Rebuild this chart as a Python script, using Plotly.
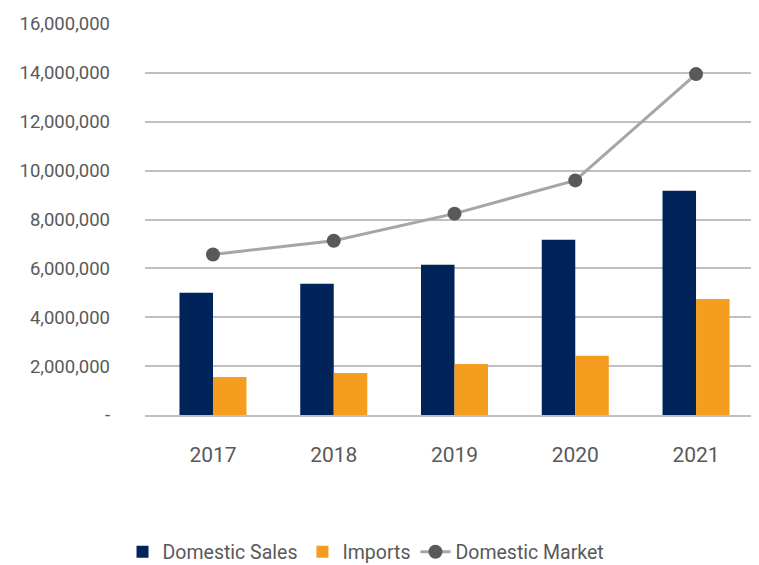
import plotly.graph_objects as go

years = ["2017", "2018", "2019", "2020", "2021"]
domestic_sales = [5000000, 5370000, 6150000, 7170000, 9180000]
imports = [1560000, 1720000, 2090000, 2420000, 4750000]
domestic_market = [6570000, 7130000, 8240000, 9600000, 13950000]

y_ticks = [0, 2000000, 4000000, 6000000, 8000000, 10000000, 12000000, 14000000, 16000000]
y_ticktext = ["-"] + [f"{v:,}" for v in y_ticks[1:]]

font = "Roboto"
grey_text = "#595959"

fig = go.Figure()
fig.add_trace(go.Bar(x=years, y=domestic_sales, name="Domestic Sales",
                     marker=dict(color="#002359", line_width=0)))
fig.add_trace(go.Bar(x=years, y=imports, name="Imports",
                     marker=dict(color="#F59D1F", line_width=0)))
fig.add_trace(go.Scatter(x=years, y=domestic_market, name="Domestic Market",
                         mode="lines+markers",
                         line=dict(color="#A6A6A6", width=3),
                         marker=dict(color="#595959", size=14)))

# page body has an 8px margin, so the figure is a bit smaller than the window
fig.update_layout(
    width=751, height=557,
    margin=dict(l=137, r=5, t=16, b=150, autoexpand=False),
    paper_bgcolor="white", plot_bgcolor="white",
    barmode="group", bargap=0.445, bargroupgap=0,
    font=dict(family=font, color=grey_text),
    showlegend=True,
    legend=dict(orientation="h", xref="container", yref="container",
                x=0.1525, xanchor="left", y=0.0233, yanchor="middle",
                font=dict(size=19.5, color=grey_text), itemwidth=30,
                traceorder="normal"),
)
fig.update_xaxes(type="category", range=[-0.563, 4.48], showgrid=False,
                 showline=True, linecolor="#BFBFBF", linewidth=1.5,
                 ticks="", tickfont=dict(size=21, color=grey_text),
                 ticklabelstandoff=20, automargin=False)
fig.update_yaxes(range=[0, 16000000], tickvals=y_ticks, ticktext=y_ticktext,
                 showgrid=True, gridcolor="#BFBFBF", gridwidth=1.5,
                 zeroline=False, showline=False, ticks="",
                 tickfont=dict(size=18.5, color=grey_text),
                 ticklabelstandoff=34, automargin=False)

fig.write_html("out.html")
